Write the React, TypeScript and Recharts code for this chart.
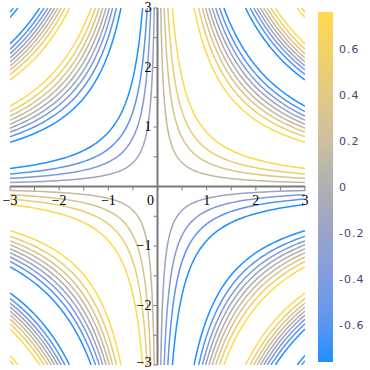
import React from 'react';
import { ScatterChart, Scatter, XAxis, YAxis, ReferenceLine, ComposedChart, ReferenceArea } from 'recharts';

// contour levels (colour-bar units) and their line colours
const LEVELS = [-0.6, -0.45, -0.3, -0.15, 0, 0.15, 0.3, 0.45, 0.6];
const LEVEL_COLORS = ['#1e90ff', '#5b93ec', '#7f9ad8', '#9aa3c2', '#b0adab', '#c5b89c', '#d8c389', '#ebcc6e', '#ffd84c'];

// x*y products at which each level's curves are drawn
const PRODUCTS_M060 = [4.05, 5.37, -0.91, -2.23, -7.19, -8.52];
const PRODUCTS_M045 = [3.78, 5.65, -0.63, -2.51, -6.92, -8.79];
const PRODUCTS_M030 = [3.55, 5.88, -0.41, -2.74, -6.69];
const PRODUCTS_M015 = [3.34, 6.08, -0.2, -2.94, -6.48];
const PRODUCTS_000 = [3.14, 6.28, -3.14, -6.28];
const PRODUCTS_P015 = [0.2, 2.94, 6.48, -3.34, -6.08];
const PRODUCTS_P030 = [0.41, 2.74, 6.69, -3.55, -5.88];
const PRODUCTS_P045 = [0.63, 2.51, 6.92, 8.79, -3.78, -5.65];
const PRODUCTS_P060 = [0.91, 2.23, 7.19, 8.52, -4.05, -5.37];
const LEVEL_PRODUCTS = [
  PRODUCTS_M060, PRODUCTS_M045, PRODUCTS_M030, PRODUCTS_M015, PRODUCTS_000,
  PRODUCTS_P015, PRODUCTS_P030, PRODUCTS_P045, PRODUCTS_P060,
];

const AXIS_DOMAIN = [-3, 3];
const AXIS_TICKS = [-3, -2.5, -2, -1.5, -1, -0.5, 0, 0.5, 1, 1.5, 2, 2.5, 3];

const COLORBAR_DOMAIN = [-0.76, 0.76];
const COLORBAR_TICKS = [-0.6, -0.4, -0.2, 0, 0.2, 0.4, 0.6];
const COLORBAR_STOP_VALUES = [0.76, 0.6, 0.4, 0.2, 0, -0.2, -0.4, -0.6, -0.76];
const COLORBAR_STOP_COLORS = ['#ffd94c', '#f2d366', '#e1c986', '#cdbfa0', '#b0b0b0', '#9aa3cb', '#7f9de1', '#5a96ef', '#1e90ff'];

// layout
const W = 310;
const H = 370;
const M = { top: 8, right: 5, bottom: 4, left: 9 };
const X_AXIS_H = 1;
const Y_AXIS_W = 1;
const PLOT_LEFT = M.left + Y_AXIS_W;
const PLOT_RIGHT = W - M.right;
const PLOT_TOP = M.top;
const PLOT_BOTTOM = H - M.bottom - X_AXIS_H;
const X0 = (PLOT_LEFT + PLOT_RIGHT) / 2;
const Y0 = (PLOT_TOP + PLOT_BOTTOM) / 2;
const AXIS_COLOR = '#7a7a7a';
const SERIF = '"Liberation Serif", "Times New Roman", serif';

function branch(k: number, sign: number, n = 60) {
  // curve x*y = k inside the [-3,3] square, on the side where sign(x) = sign
  const a = Math.abs(k) / 3;
  const pts: { x: number; y: number }[] = [];
  for (let i = 0; i <= n; i++) {
    const ax = a * Math.pow(3 / a, i / n);
    const x = sign * ax;
    pts.push({ x, y: k / x });
  }
  return pts;
}

const fmt = (v: number) => (v < 0 ? '\u2212' + Math.abs(v) : String(v));

const XTick = (props: any) => {
  const { x, payload } = props;
  const v = payload.value as number;
  const isInt = Number.isInteger(v);
  return (
    <g>
      <line x1={x} x2={x} y1={Y0} y2={Y0 + 4} stroke={AXIS_COLOR} strokeWidth={1} />
      {isInt && (
        <text x={v === 0 ? x - 7 : x} y={Y0 + 18} textAnchor="middle" fontFamily={SERIF} fontSize={14} fill="#000">
          {fmt(v)}
        </text>
      )}
    </g>
  );
};

const YTick = (props: any) => {
  const { y, payload } = props;
  const v = payload.value as number;
  const isInt = Number.isInteger(v);
  const ty = Math.min(y + 4, H - 3);
  return (
    <g>
      <line x1={X0 - 4} x2={X0} y1={y} y2={y} stroke={AXIS_COLOR} strokeWidth={1} />
      {isInt && v !== 0 && (
        <text x={X0 - 6} y={ty} textAnchor="end" fontFamily={SERIF} fontSize={14} fill="#000">
          {fmt(v)}
        </text>
      )}
    </g>
  );
};

const CB_W = 70;
const CB_M = { top: 12, right: 36, bottom: 8, left: 18 };

const CbTick = (props: any) => {
  const { y, payload } = props;
  const v = payload.value as number;
  return (
    <text x={39} y={y + 4} textAnchor="start" fontFamily='"DejaVu Sans", sans-serif' fontSize={11} letterSpacing={1} fill="#4e3f72">
      {v < 0 ? '-' + Math.abs(v) : String(v)}
    </text>
  );
};

const Empty = () => <g />;

export default function App() {
  const series: React.ReactNode[] = [];
  LEVEL_PRODUCTS.forEach((prods, li) => {
    prods.forEach((k, ki) => {
      [1, -1].forEach((s) => {
        series.push(
          <Scatter
            key={`c-${li}-${ki}-${s}`}
            data={branch(k, s)}
            fill={LEVEL_COLORS[li]}
            stroke={LEVEL_COLORS[li]}
            line={{ stroke: LEVEL_COLORS[li], strokeWidth: 1.5 }}
            lineType="joint"
            shape={Empty}
            isAnimationActive={false}
          />
        );
      });
    });
  });

  return (
    <div style={{ position: 'absolute', left: 0, top: 0, width: 370, height: 370, background: '#fff' }}>
      <div style={{ position: 'absolute', left: 0, top: 0 }}>
        <ScatterChart width={W} height={H} margin={M}>
          <XAxis
            type="number"
            dataKey="x"
            domain={AXIS_DOMAIN}
            ticks={AXIS_TICKS}
            interval={0}
            height={X_AXIS_H}
            axisLine={false}
            tickLine={false}
            tick={XTick}
            allowDataOverflow
          />
          <YAxis
            type="number"
            dataKey="y"
            domain={AXIS_DOMAIN}
            ticks={AXIS_TICKS}
            interval={0}
            width={Y_AXIS_W}
            axisLine={false}
            tickLine={false}
            tick={YTick}
            allowDataOverflow
          />
          {series}
          <ReferenceLine x={0} stroke={AXIS_COLOR} strokeWidth={2} />
          <ReferenceLine y={0} stroke={AXIS_COLOR} strokeWidth={2} />
        </ScatterChart>
      </div>
      <div style={{ position: 'absolute', left: 300, top: 0 }}>
        <ComposedChart width={CB_W} height={H} margin={CB_M} data={[{ x: 0.5, y: 0 }]}>
          <defs>
            <linearGradient id="cbGrad" x1="0" y1="0" x2="0" y2="1">
              {COLORBAR_STOP_VALUES.map((v, i) => (
                <stop
                  key={i}
                  offset={`${((COLORBAR_DOMAIN[1] - v) / (COLORBAR_DOMAIN[1] - COLORBAR_DOMAIN[0])) * 100}%`}
                  stopColor={COLORBAR_STOP_COLORS[i]}
                />
              ))}
            </linearGradient>
          </defs>
          <XAxis type="number" dataKey="x" domain={[0, 1]} hide />
          <YAxis
            type="number"
            dataKey="y"
            orientation="right"
            domain={COLORBAR_DOMAIN}
            ticks={COLORBAR_TICKS}
            interval={0}
            width={1}
            axisLine={false}
            tickLine={false}
            tick={CbTick}
          />
          <ReferenceArea
            x1={0}
            x2={1}
            y1={COLORBAR_DOMAIN[0]}
            y2={COLORBAR_DOMAIN[1]}
            fill="url(#cbGrad)"
            fillOpacity={1}
            stroke="none"
          />
        </ComposedChart>
      </div>
    </div>
  );
}
